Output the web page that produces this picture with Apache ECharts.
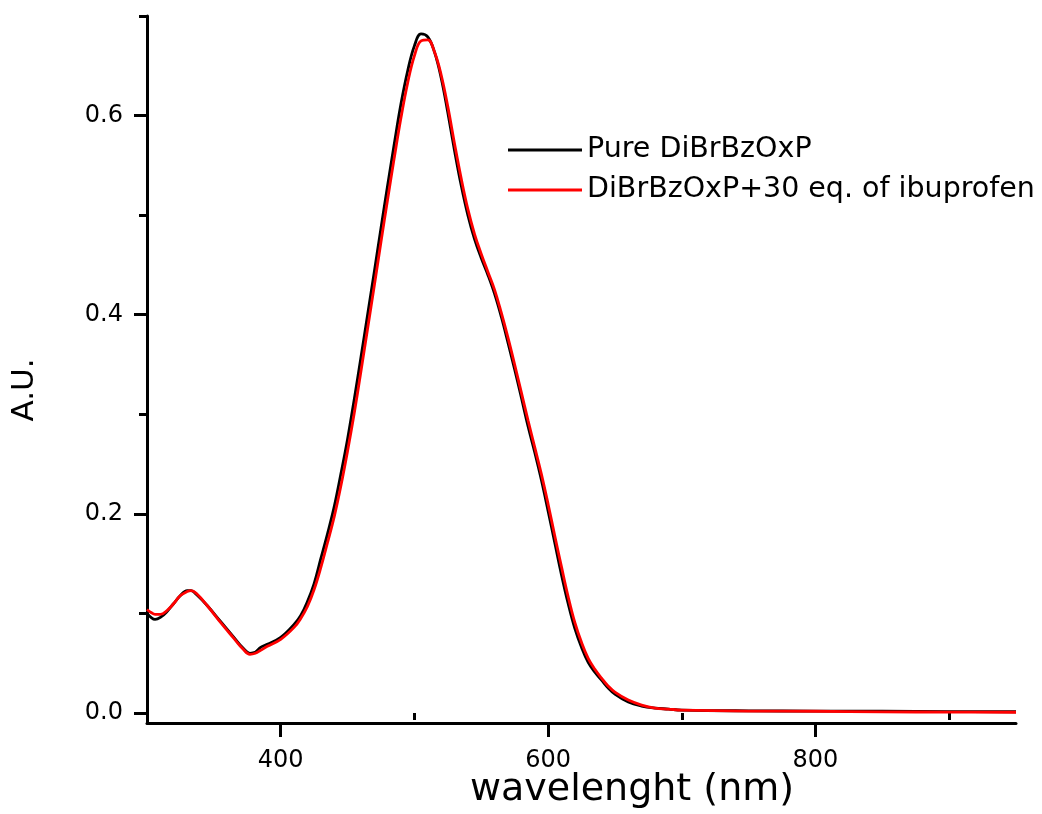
<!DOCTYPE html>
<html>
<head>
<meta charset="utf-8">
<script src="https://cdn.jsdelivr.net/npm/echarts@6/dist/echarts.min.js"></script>
<style>
html,body{margin:0;padding:0;background:#fff;}
#chart{width:1042px;height:814px;}
</style>
</head>
<body>
<div id="chart"></div>
<script>
// ---- data ----
var wavelengths = [300,303,306,310,315,320,325,330,333,337,345,355,365,372,377,381,385,390,400,410,415,420,425,430,435,440,445,450,455,460,465,470,475,480,485,490,495,500,505,510,515,520,525,530,535,540,545,550,555,560,565,570,575,580,585,590,595,600,605,610,615,620,625,630,635,640,645,650,660,670,680,690,700,750,800,850,900,950];

var pureValues = [0.100,0.096,0.094,0.096,0.102,0.110,0.118,0.123,0.123,0.119,0.108,0.092,0.076,0.065,0.060,0.061,0.066,0.069,0.076,0.089,0.098,0.112,0.130,0.155,0.180,0.207,0.240,0.275,0.315,0.357,0.400,0.443,0.487,0.530,0.572,0.612,0.645,0.670,0.682,0.679,0.664,0.638,0.603,0.565,0.530,0.500,0.476,0.457,0.440,0.421,0.398,0.372,0.345,0.317,0.288,0.262,0.234,0.203,0.171,0.139,0.110,0.085,0.066,0.051,0.041,0.033,0.025,0.019,0.011,0.007,0.005,0.004,0.003,0.0022,0.002,0.0018,0.0015,0.0013];

var ibuValues = [0.104,0.101,0.099,0.099,0.103,0.110,0.118,0.122,0.123,0.120,0.108,0.091,0.075,0.064,0.059,0.060,0.063,0.067,0.074,0.086,0.095,0.107,0.124,0.146,0.171,0.197,0.228,0.263,0.301,0.343,0.386,0.429,0.473,0.516,0.558,0.598,0.633,0.660,0.675,0.676,0.664,0.641,0.609,0.572,0.537,0.506,0.481,0.461,0.443,0.425,0.402,0.377,0.350,0.322,0.294,0.267,0.240,0.210,0.178,0.147,0.117,0.091,0.071,0.055,0.044,0.035,0.027,0.021,0.013,0.008,0.005,0.004,0.003,0.002,0.0018,0.0012,0.001,0.0008];

var seriesNames = ['Pure DiBrBzOxP', 'DiBrBzOxP+30 eq. of ibuprofen'];
var xMajorTicks = [400, 600, 800];
var xMinorTicks = [300, 500, 700, 900];
var yMajorTicks = [0, 0.2, 0.4, 0.6];
var yMinorTicks = [0.1, 0.3, 0.5, 0.7];
var xTitle = 'wavelenght (nm)';
var yTitle = 'A.U.';

function pairs(xs, ys){ return xs.map(function(x,i){ return [x, ys[i]]; }); }

var FONT = 'DejaVu Sans';
var chart = echarts.init(document.getElementById('chart'), null, {renderer:'canvas'});
var axisLineStyle = {color:'#000', width:3};

chart.setOption({
  animation:false,
  backgroundColor:'#fff',
  grid:{left:147, right:26, top:16, bottom:91, containLabel:false},
  legend:{
    orient:'vertical', left:503, top:130,
    icon:'rect', itemWidth:74, itemHeight:3, itemGap:10,
    textStyle:{fontFamily:FONT, fontSize:28.5, color:'#000', lineHeight:30},
    data:seriesNames
  },
  xAxis:[{
    type:'value', min:300, max:950, gridIndex:0, position:'bottom',
    axisLine:{show:true, onZero:false, lineStyle:axisLineStyle},
    axisTick:{show:true, inside:false, length:14, lineStyle:{color:'#000', width:3}, customValues:xMajorTicks},
    axisLabel:{show:true, margin:26, fontFamily:FONT, fontSize:24, color:'#000', customValues:xMajorTicks},
    splitLine:{show:false}
  },{
    type:'value', min:300, max:950, gridIndex:0, position:'bottom', offset:0,
    axisLine:{show:false},
    axisTick:{show:true, inside:false, length:7, lineStyle:{color:'#000', width:3}, customValues:xMinorTicks},
    axisLabel:{show:false},
    splitLine:{show:false}
  }],
  yAxis:[{
    type:'value', min:-0.01, max:0.7, gridIndex:0, position:'left',
    axisLine:{show:true, onZero:false, lineStyle:axisLineStyle},
    axisTick:{show:true, inside:false, length:13, lineStyle:{color:'#000', width:3}, customValues:yMajorTicks},
    axisLabel:{show:true, margin:24, fontFamily:FONT, fontSize:24, color:'#000', customValues:yMajorTicks,
      formatter:function(v){ return v.toFixed(1); }},
    splitLine:{show:false}
  },{
    type:'value', min:-0.01, max:0.7, gridIndex:0, position:'left', offset:0,
    axisLine:{show:false},
    axisTick:{show:true, inside:false, length:8, lineStyle:{color:'#000', width:3}, customValues:yMinorTicks},
    axisLabel:{show:false},
    splitLine:{show:false}
  }],
  graphic:[
    {type:'text', x:632, y:790, style:{text:xTitle, font:'38px "DejaVu Sans"', fill:'#000', textAlign:'center', textVerticalAlign:'middle'}},
    {type:'text', x:25, y:390, rotation:Math.PI/2, style:{text:yTitle, font:'31px "DejaVu Sans"', fill:'#000', textAlign:'center', textVerticalAlign:'middle'}}
  ],
  series:[
    {name:seriesNames[0], type:'line', xAxisIndex:0, yAxisIndex:0, data:pairs(wavelengths, pureValues),
     showSymbol:false, symbol:'none', smooth:0.4, lineStyle:{color:'#000', width:2.8}, itemStyle:{color:'#000'}},
    {name:seriesNames[1], type:'line', xAxisIndex:0, yAxisIndex:0, data:pairs(wavelengths, ibuValues),
     showSymbol:false, symbol:'none', smooth:0.4, lineStyle:{color:'#ff0000', width:2.8}, itemStyle:{color:'#ff0000'}}
  ]
});
</script>
</body>
</html>
